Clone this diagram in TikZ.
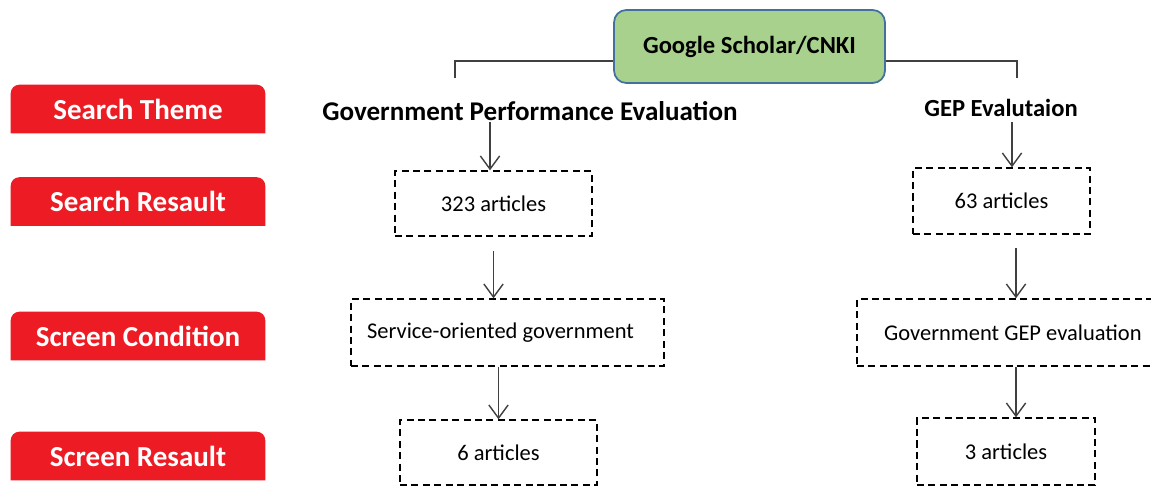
\documentclass[tikz,border=0pt]{standalone}
\usepackage{fontspec}
\setmainfont{Carlito}
\usetikzlibrary{arrows.meta,backgrounds}

\definecolor{labred}{HTML}{ED1C24}
\definecolor{srcgreen}{HTML}{A9D18E}
\definecolor{srcblue}{HTML}{41719C}
\definecolor{arrgray}{HTML}{404040}

\begin{document}
\begin{tikzpicture}[x=0.02cm, y=-0.02cm,
    >={Straight Barb[length=7.5pt,width=11pt,line width=0.8pt]},
    lab/.style={minimum width=5.08cm, minimum height=0.96cm, inner sep=0pt,
        text=white, font=\fontsize{16.5}{18}\selectfont\bfseries},
    src/.style={draw=srcblue, fill=srcgreen, line width=1pt, rounded corners=7pt,
        minimum width=5.42cm, minimum height=1.46cm, inner sep=0pt,
        font=\fontsize{14}{16}\selectfont\bfseries},
    theme/.style={inner sep=1pt},
    stepbox/.style={draw, dashed, dash pattern=on 4pt off 2.5pt, line width=0.8pt,
        inner sep=0pt, font=\fontsize{12.8}{15}\selectfont},
    flow/.style={->, arrgray, line width=0.9pt}]
        % --- 1. Frame ---
        \clip (0,0) rectangle (1151,487);
        % --- 2. Row labels ---
        \foreach \name/\y/\txt in {st/109/Search Theme, sr/201.5/Search Resault,
            sc/336/Screen Condition, scr/456/Screen Resault} {
            \node[lab] (\name) at (138,\y) {\txt};
            \begin{scope}[on background layer]
                \fill[labred] (\name.south west) [rounded corners=5pt] -- (\name.north west)
                    -- (\name.north east) [sharp corners] -- (\name.south east) -- cycle;
            \end{scope}
        }
        % --- 3. Source and themes ---
        \node[src] (gs) at (749.5,46.5) {Google Scholar/CNKI};
        \node[theme, font=\fontsize{15.4}{17}\selectfont\bfseries] (gpe) at (530,111)
            {Government Performance Evaluation};
        \node[theme, font=\fontsize{14}{16}\selectfont\bfseries] (gep) at (1001,108)
            {GEP Evalutaion};
        \coordinate (lj) at (455,61);
        \coordinate (lt) at (455,78);
        \coordinate (rj) at (1017,61);
        \coordinate (rt) at (1017,78);
        \draw[arrgray, line width=0.8pt] (lt) -- (lj) -- (lj -| gs.west);
        \draw[arrgray, line width=0.8pt] (rt) -- (rj) -- (rj -| gs.east);
        % --- 4. Left column ---
        \node[stepbox, minimum width=3.94cm, minimum height=1.3cm] (a323) at (493.5,203.5)
            {323 articles};
        \node[stepbox, minimum width=6.26cm, minimum height=1.34cm] (asvc) at (507.5,332.5)
            {Service-oriented government\hspace*{8pt}};
        \node[stepbox, minimum width=3.94cm, minimum height=1.3cm] (a6) at (498.5,452.5)
            {6 articles};
        \coordinate (gpebot) at (490,122);
        \draw[flow] (gpebot) -- (gpebot |- a323.north);
        \draw[flow] ([yshift=-8pt]a323.south) -- (a323.south |- asvc.north);
        \draw[flow] (a6.north |- asvc.south) -- (a6.north);
        % --- 5. Right column ---
        \node[stepbox, minimum width=3.54cm, minimum height=1.32cm] (b63) at (1001.5,201)
            {63 articles};
        \node[stepbox, minimum width=6.06cm, minimum height=1.34cm] (bgge) at (1008.5,332.5)
            {\hspace*{5pt}Government GEP evaluation};
        \node[stepbox, minimum width=3.56cm, minimum height=1.34cm] (b3) at (1006,451.5)
            {3 articles};
        \coordinate (gepbot) at (1012,122);
        \draw[flow] (gepbot) -- (gepbot |- b63.north);
        \coordinate (b63arr) at (1016,248);
        \draw[flow] (b63arr) -- (b63arr |- bgge.north);
        \coordinate (ggearr) at (1016,367);
        \draw[flow] (ggearr) -- (ggearr |- b3.north);
\end{tikzpicture}
\end{document}
